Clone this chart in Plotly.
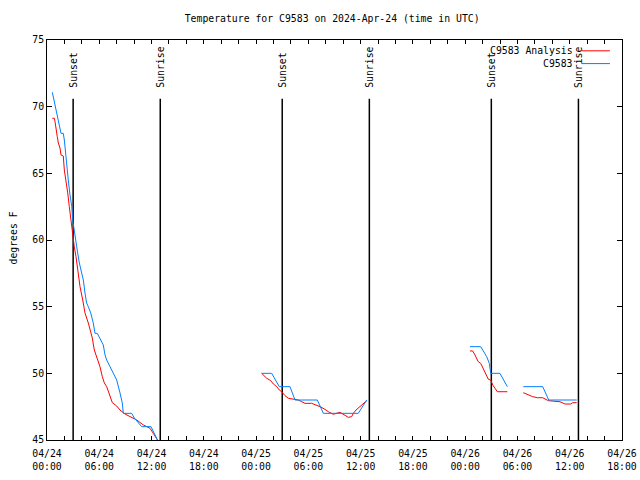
import pandas as pd
import plotly.graph_objects as go

# ---------------- data ----------------
start = pd.Timestamp("2024-04-24 00:00")
title_text = "Temperature for C9583 on 2024-Apr-24 (time in UTC)"
y_label = "degrees F"
name_analysis = "C9583 Analysis"
name_obs = "C9583"

# hours since 2024-04-24 00:00 UTC (None = data gap)
hours_analysis = [0.61, 0.84, 0.92, 1.03, 1.18, 1.30, 1.49, 1.61, 1.87, 1.99, 2.18, 2.38, 2.56, 2.75,
                  2.90, 2.95, 3.13, 3.33, 3.48, 3.64, 3.79, 4.10, 4.36, 4.74, 4.94, 5.20, 5.43, 5.70,
                  6.08, 6.35, 6.58, 6.85, 7.23, 7.50, 8.00, 8.38, 8.95, 9.53, 10.30, 11.05, 11.82,
                  12.20, 12.68, None,
                  24.64, 24.83, 25.22, 25.68, 25.98, 26.37, 26.66, 26.94, 27.32, 27.70, 28.27, 28.85,
                  29.24, 29.61, 30.38, 30.96, 31.34, 31.91, 32.29, 32.86, 33.25, 33.63, 33.83, 34.20,
                  34.58, 34.97, 35.16, 35.47, 35.93, 36.31, 36.70, None,
                  48.55, 48.86, 49.12, 49.50, 49.78, 50.08, 50.47, 50.66, 50.93, 51.16, 51.42, 51.69,
                  52.84, None,
                  54.67, 54.98, 55.36, 55.75, 56.28, 56.90, 57.54, 58.88, 59.46, 60.11, 60.34, 60.80]
temp_analysis = [69.13, 69.13, 68.88, 68.25, 67.75, 67.28, 66.90, 66.38, 66.30, 65.25, 64.50, 63.53, 62.50, 61.50,
                 60.75, 60.25, 59.50, 58.75, 58.00, 57.00, 56.50, 55.50, 54.53, 53.78, 53.25, 52.65, 51.75, 51.25,
                 50.50, 49.75, 49.28, 49.00, 48.25, 47.80, 47.55, 47.25, 46.95, 46.75, 46.50, 46.13, 45.88,
                 45.50, 45.00, None,
                 50.00, 49.88, 49.63, 49.45, 49.20, 49.00, 48.75, 48.62, 48.32, 48.13, 48.07, 48.00,
                 47.87, 47.75, 47.75, 47.63, 47.50, 47.30, 47.12, 46.93, 47.00, 47.08, 47.00, 46.88,
                 46.70, 46.75, 47.00, 47.25, 47.50, 47.70, 47.95, None,
                 51.68, 51.68, 51.38, 50.87, 50.75, 50.38, 49.88, 49.55, 49.50, 49.13, 48.88, 48.62,
                 48.62, None,
                 48.55, 48.45, 48.32, 48.25, 48.17, 48.17, 47.95, 47.87, 47.70, 47.70, 47.80, 47.80]

hours_obs = [0.61, 0.72, 0.92, 1.11, 1.30, 1.49, 1.61, 1.87, 1.99, 2.18, 2.26, 2.44, 2.64, 2.84, 2.95,
             3.13, 3.33, 3.52, 3.71, 3.98, 4.17, 4.36, 4.55, 4.74, 5.02, 5.31, 5.51, 5.77, 6.08, 6.46,
             6.66, 6.85, 7.23, 7.61, 8.00, 8.38, 8.64, 8.76, 9.72, 10.02, 10.48, 10.87, 11.94, 12.20,
             12.59, 12.68, None,
             24.64, 25.79, 26.66, 27.89, 28.47, 31.03, 31.72, 35.73, 36.70, None,
             48.55, 49.78, 50.47, 50.77, 50.93, 51.99, 52.84, None,
             54.67, 56.90, 57.59, 60.80]
temp_obs = [71.08, 70.75, 70.13, 69.50, 68.88, 68.40, 68.00, 68.00, 67.50, 66.25, 65.50, 64.50, 63.38, 62.50, 61.50,
            60.62, 59.78, 59.03, 58.28, 57.53, 57.00, 56.03, 55.28, 55.00, 54.53, 53.78, 53.00, 53.00, 52.65, 52.13,
            51.38, 51.00, 50.50, 50.03, 49.50, 48.53, 47.78, 47.00, 47.00, 46.65, 46.28, 46.00, 46.00, 45.62,
            45.13, 45.00, None,
            50.0, 50.0, 49.0, 49.0, 48.0, 48.0, 47.0, 47.0, 48.0, None,
            52.0, 52.0, 51.25, 50.75, 50.0, 50.0, 49.0, None,
            49.0, 49.0, 48.0, 48.0]

sun_times = ["2024-04-24 03:00", "2024-04-24 13:00", "2024-04-25 03:00",
             "2024-04-25 13:00", "2024-04-26 03:00", "2024-04-26 13:00"]
sun_labels = ["Sunset", "Sunrise", "Sunset", "Sunrise", "Sunset", "Sunrise"]

x_range = ["2024-04-24 00:00", "2024-04-26 18:00"]
y_range = [45, 75]
y_ticks = [45, 50, 55, 60, 65, 70, 75]
tick_hours = list(range(0, 67, 2))

# ---------------- build ----------------
def to_time(hs):
    return [None if h is None else (start + pd.Timedelta(hours=h)).strftime("%Y-%m-%d %H:%M:%S") for h in hs]

tick_vals = [(start + pd.Timedelta(hours=h)).strftime("%Y-%m-%d %H:%M") for h in tick_hours]
tick_text = [(start + pd.Timedelta(hours=h)).strftime("%m/%d<br>%H:%M") if h % 6 == 0 else "" for h in tick_hours]

FONT = "DejaVu Sans Mono"
RED = "#ff0000"
BLUE = "#0080ff"

fig = go.Figure()
fig.add_trace(go.Scatter(x=to_time(hours_analysis), y=temp_analysis, mode="lines",
                         line=dict(color=RED, width=1), name=name_analysis, connectgaps=False))
fig.add_trace(go.Scatter(x=to_time(hours_obs), y=temp_obs, mode="lines",
                         line=dict(color=BLUE, width=1), name=name_obs, connectgaps=False))

for t, lab in zip(sun_times, sun_labels):
    fig.add_shape(type="line", xref="x", yref="y", x0=t, x1=t, y0=45, y1=70.6,
                  line=dict(color="black", width=1.5), layer="below")
    fig.add_annotation(x=t, y=71.25, xref="x", yref="y", text=lab, textangle=-90,
                       showarrow=False, xanchor="center", yanchor="bottom",
                       font=dict(family=FONT, size=9.8, color="black"))

# gnuplot-style legend (text on the left, sample on the right)
for name, col, yp in [(name_analysis, RED, 0.973), (name_obs, BLUE, 0.941)]:
    fig.add_annotation(x=0.9191, y=yp, xref="paper", yref="paper", text=name, showarrow=False,
                       xanchor="right", yanchor="middle", font=dict(family=FONT, size=9.8, color="black"))
    fig.add_shape(type="line", xref="paper", yref="paper", x0=0.930, x1=0.979, y0=yp, y1=yp,
                  line=dict(color=col, width=1))

fig.add_annotation(x=-0.0583, y=0.505, xref="paper", yref="paper", text=y_label, textangle=-90,
                   showarrow=False, xanchor="center", yanchor="middle",
                   font=dict(family=FONT, size=9.8, color="black"))

fig.update_layout(
    width=640, height=480,
    margin=dict(l=47, r=18, t=40, b=40, autoexpand=False),
    paper_bgcolor="white", plot_bgcolor="white",
    showlegend=False,
    font=dict(family=FONT, size=9.8, color="black"),
    title=dict(text=title_text, x=0.519, xref="container", xanchor="center",
               y=1 - 19 / 480, yref="container", yanchor="middle",
               font=dict(family=FONT, size=9.8, color="black")),
    xaxis=dict(type="date", range=x_range, tickmode="array", tickvals=tick_vals, ticktext=tick_text,
               ticks="inside", ticklen=4, tickcolor="black", tickwidth=1,
               showline=True, linecolor="black", linewidth=1, mirror="allticks",
               showgrid=False, zeroline=False, tickangle=0, automargin=False,
               ticklabelstandoff=4,
               tickfont=dict(family=FONT, size=9.8, color="black")),
    yaxis=dict(range=y_range, tickmode="array", tickvals=y_ticks,
               ticks="inside", ticklen=5, tickcolor="black", tickwidth=1,
               showline=True, linecolor="black", linewidth=1, mirror="allticks",
               showgrid=False, zeroline=False, automargin=False,
               tickfont=dict(family=FONT, size=9.8, color="black")),
)

fig.write_html("out.html", config={"displayModeBar": False},
               post_script="document.body.style.margin='0px';")
